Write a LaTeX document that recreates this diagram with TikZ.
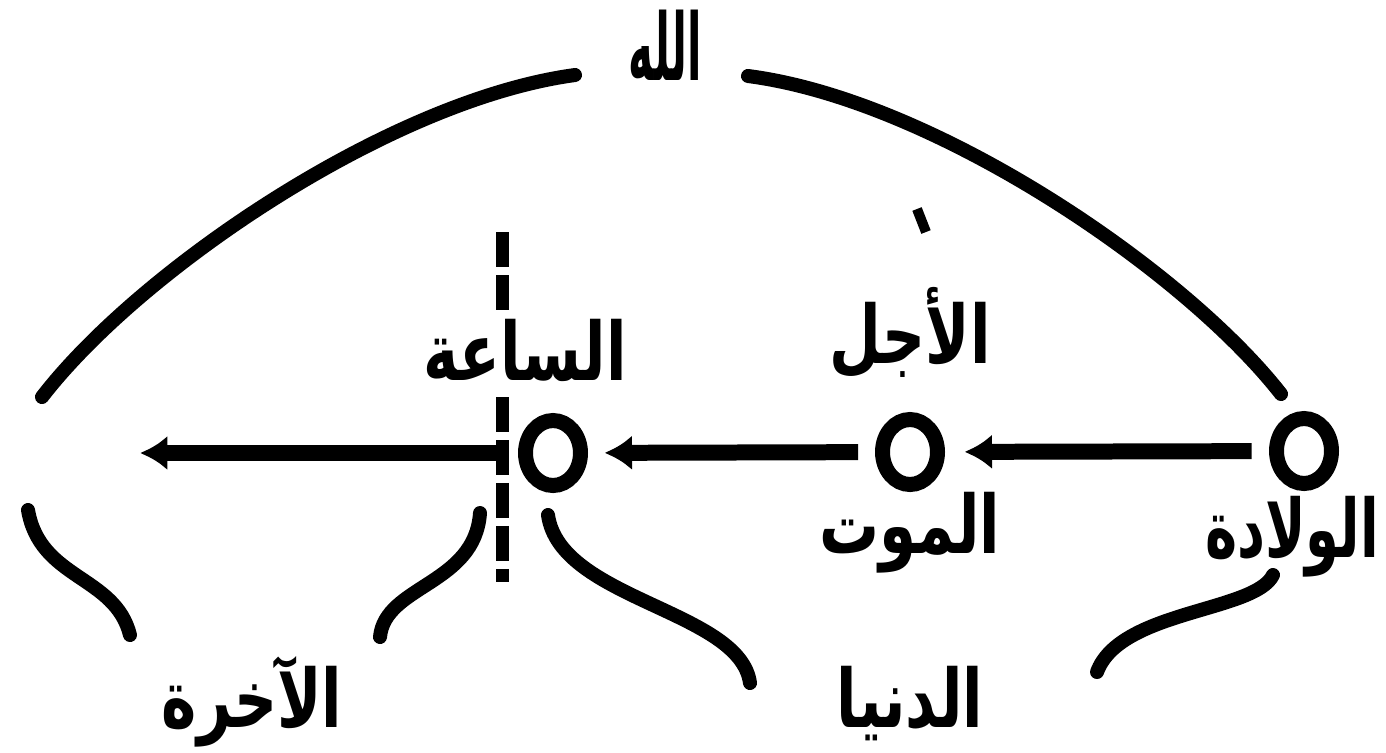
\documentclass[tikz,border=0pt]{standalone}
\usepackage{fontspec}
\usepackage{graphicx}
\usepackage{tikz}
\usetikzlibrary{arrows.meta,shapes.geometric}
\newfontfamily\arabicfont[Script=Arabic]{DejaVu Sans}
\TeXXeTstate=1
\newcommand{\artext}[2][1.35]{\scalebox{1}[#1]{\arabicfont\bfseries\beginR #2\endR}}

\begin{document}
\begin{tikzpicture}[x=0.02cm,y=-0.02cm,
    stroke/.style={line width=0.28cm,line cap=round},
    ring/.style={ellipse,draw,line width=0.3cm,minimum width=1.1cm,
                 minimum height=1.3cm,inner sep=0pt},
    flow/.style={line width=0.32cm,-{Latex[length=0.55cm,width=0.7cm]}},
    cutline/.style={line width=0.26cm,dash pattern=on 0.7cm off 0.16cm},
    word/.style={font=\fontsize{34}{40}\selectfont,anchor=base,inner sep=1pt}]
    \useasboundingbox (0,0) rectangle (1386,752);

    % the arc under the top word
    \node[word,font=\fontsize{24}{28}\selectfont] (allah) at (665,80) {\artext[2.2]{الله}};
    \draw[stroke] (42,397) .. controls (140,270) and (390,100) .. (575,75);
    \draw[stroke] (748,76) .. controls (934,100) and (1184,270) .. (1281,394);
    \draw[line width=0.2cm] (917,209) -- (926,232);

    % points on the line of time
    \node[ring] (birth) at (1304,451) {};
    \node[ring] (death) at (910,452) {};
    \node[ring] (hour) at (553,453) {};
    \coordinate (cut) at (502,453);
    \coordinate (beyond) at (140,453);
    \draw[flow,shorten <=0.35cm,shorten >=0.39cm] (birth) -- (death);
    \draw[flow,shorten <=0.34cm,shorten >=0.33cm] (death) -- (hour);
    \draw[flow] (cut) -- (beyond);
    \draw[cutline] (502,232) -- (502,310);
    \draw[cutline] (502,397) -- (502,582);

    \node[word] (hourlbl) at (525,380) {\artext{الساعة}};
    \node[word] (termlbl) at (910,363) {\artext{الأجل}};
    \node[word] (deathlbl) at (910,553) {\artext{الموت}};
    \node[word,font=\fontsize{31}{36}\selectfont] (birthlbl) at (1292,557) {\artext[1.48]{الولادة}};

    % the two spans below
    \draw[stroke] (28,510) .. controls (40,580) and (115,575) .. (130,635);
    \draw[stroke] (480,513) .. controls (475,585) and (385,585) .. (380,637);
    \draw[stroke] (548,515) .. controls (560,600) and (740,610) .. (750,683);
    \draw[stroke] (1273,575) .. controls (1255,612) and (1120,610) .. (1097,672);
    \node[word] (afterlbl) at (252,727) {\artext{الآخرة}};
    \node[word] (worldlbl) at (910,727) {\artext{الدنيا}};
  \end{tikzpicture}
\end{document}
